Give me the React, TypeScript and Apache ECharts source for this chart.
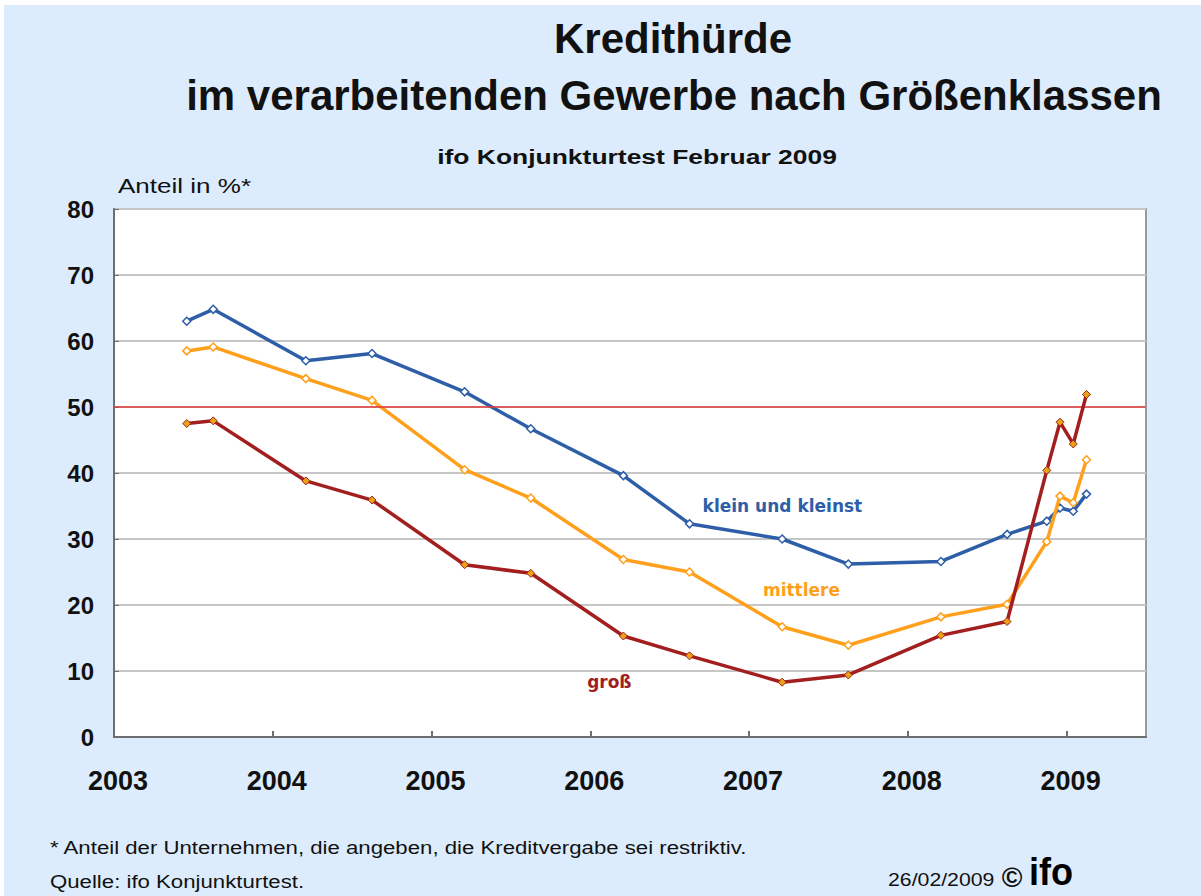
import React, { useEffect, useRef } from "react";
import * as echarts from "echarts";

// Survey months (ifo Konjunkturtest)
const surveyDates = [
  "2003-06", "2003-08", "2004-03", "2004-08", "2005-03", "2005-08",
  "2006-03", "2006-08", "2007-03", "2007-08", "2008-03", "2008-08",
  "2008-11", "2008-12", "2009-01", "2009-02",
];
const kleinUndKleinst = [63.0, 64.8, 57.0, 58.1, 52.3, 46.7, 39.6, 32.3, 30.0, 26.2, 26.6, 30.7, 32.7, 34.7, 34.2, 36.8];
const mittlere = [58.5, 59.1, 54.3, 51.0, 40.5, 36.2, 26.9, 25.0, 16.7, 13.9, 18.2, 20.1, 29.6, 36.5, 35.5, 42.0];
const gross = [47.5, 47.9, 38.8, 35.9, 26.1, 24.8, 15.3, 12.3, 8.3, 9.4, 15.4, 17.5, 40.4, 47.7, 44.4, 51.9];
const yearTicks = [2003, 2004, 2005, 2006, 2007, 2008, 2009];
const threshold = 50;

// label anchors in data coordinates [year, value]
const labelKlein: [number, number] = [2007.21, 35.0];
const labelMittlere: [number, number] = [2007.33, 22.3];
const labelGross: [number, number] = [2006.12, 8.4];

const BLUE = "#2E5EA8";
const ORANGE = "#FFA01C";
const RED = "#A31F1F";

function toYear(d: string): number {
  const [y, m] = d.split("-").map(Number);
  return y + (m - 0.5) / 12;
}

function pairs(values: number[]) {
  return surveyDates.map((d, i) => [toYear(d), values[i]]);
}

export default function App() {
  const ref = useRef<HTMLDivElement>(null);
  useEffect(() => {
    if (!ref.current) return;
    const chart = echarts.init(ref.current, undefined, { renderer: "svg" });
    const seriesLabel = (text: string, coord: [number, number], color: string) => ({
      symbol: "circle",
      symbolSize: 0,
      silent: true,
      data: [
        {
          coord,
          label: {
            show: true,
            position: "inside",
            formatter: text,
            color,
            fontFamily: "DejaVu Sans",
            fontWeight: "bold",
            fontSize: 17,
          },
        },
      ],
    });
    chart.setOption({
      animation: false,
      backgroundColor: "transparent",
      grid: {
        left: 114,
        right: 55,
        top: 209,
        bottom: 159,
        show: true,
        backgroundColor: "#ffffff",
        borderColor: "#9a9a9a",
        borderWidth: 2,
      },
      xAxis: {
        type: "value",
        min: yearTicks[0],
        max: 2009.5,
        interval: 1,
        axisLine: { show: true, lineStyle: { color: "#6e6e6e", width: 2 } },
        axisTick: { show: true, inside: true, length: 6, lineStyle: { color: "#6e6e6e", width: 2 } },
        splitLine: { show: false },
        axisLabel: {
          margin: 30,
          color: "#111",
          fontFamily: "Liberation Sans, Arial",
          fontWeight: "bold",
          fontSize: 27,
          showMaxLabel: false,
          padding: [0, 0, 0, 8],
          formatter: (v: number) => (yearTicks.includes(v) ? String(v) : ""),
        },
      },
      yAxis: {
        type: "value",
        min: 0,
        max: 80,
        interval: 10,
        axisLine: { show: true, lineStyle: { color: "#6e6e6e", width: 2 } },
        axisTick: { show: true, inside: true, length: 5, lineStyle: { color: "#6e6e6e", width: 1 } },
        splitLine: { show: true, lineStyle: { color: "#c6c6c6", width: 2 } },
        axisLabel: {
          margin: 20,
          color: "#111",
          fontFamily: "Liberation Sans, Arial",
          fontWeight: "bold",
          fontSize: 24,
        },
      },
      series: [
        {
          name: "Schwelle",
          type: "line",
          data: [],
          z: 1,
          markLine: {
            silent: true,
            symbol: ["none", "none"],
            label: { show: false },
            lineStyle: { color: "#E23A3A", width: 1.5, type: "solid" },
            data: [{ yAxis: threshold }],
          },
        },
        {
          name: "klein und kleinst",
          type: "line",
          z: 3,
          data: pairs(kleinUndKleinst),
          lineStyle: { color: BLUE, width: 3.5 },
          symbol: "diamond",
          symbolSize: 8,
          itemStyle: { color: "#ffffff", borderColor: BLUE, borderWidth: 1.5 },
          markPoint: seriesLabel("klein und kleinst", labelKlein, BLUE),
        },
        {
          name: "mittlere",
          type: "line",
          z: 4,
          data: pairs(mittlere),
          lineStyle: { color: ORANGE, width: 3.5 },
          symbol: "diamond",
          symbolSize: 8,
          itemStyle: { color: "#ffffff", borderColor: ORANGE, borderWidth: 1.5 },
          markPoint: seriesLabel("mittlere", labelMittlere, ORANGE),
        },
        {
          name: "groß",
          type: "line",
          z: 5,
          data: pairs(gross),
          lineStyle: { color: RED, width: 3.5 },
          symbol: "diamond",
          symbolSize: 8,
          itemStyle: { color: "#E9A416", borderColor: RED, borderWidth: 1 },
          markPoint: seriesLabel("groß", labelGross, RED),
        },
      ],
      graphic: [
        {
          type: "text",
          x: 673,
          y: 38,
          style: {
            text: "Kredithürde",
            textAlign: "center",
            textVerticalAlign: "middle",
            font: "bold 42px 'Liberation Sans', Arial",
            fill: "#111",
          },
        },
        {
          type: "text",
          x: 674,
          y: 95,
          style: {
            text: "im verarbeitenden Gewerbe nach Größenklassen",
            textAlign: "center",
            textVerticalAlign: "middle",
            font: "bold 42px 'Liberation Sans', Arial",
            fill: "#111",
          },
        },
        {
          type: "text",
          x: 637,
          y: 157,
          scaleX: 1.26,
          style: {
            text: "ifo Konjunkturtest Februar 2009",
            textAlign: "center",
            textVerticalAlign: "middle",
            font: "bold 21px 'Liberation Sans', Arial",
            fill: "#111",
          },
        },
        {
          type: "text",
          x: 118,
          y: 186,
          scaleX: 1.24,
          style: {
            text: "Anteil in %*",
            textAlign: "left",
            textVerticalAlign: "middle",
            font: "21px 'Liberation Sans', Arial",
            fill: "#111",
          },
        },
        {
          type: "text",
          x: 50,
          y: 848,
          scaleX: 1.2,
          style: {
            text: "* Anteil der Unternehmen, die angeben, die Kreditvergabe sei restriktiv.",
            textAlign: "left",
            textVerticalAlign: "middle",
            font: "18.5px 'Liberation Sans', Arial",
            fill: "#111",
          },
        },
        {
          type: "text",
          x: 50,
          y: 882,
          scaleX: 1.2,
          style: {
            text: "Quelle: ifo Konjunkturtest.",
            textAlign: "left",
            textVerticalAlign: "middle",
            font: "18.5px 'Liberation Sans', Arial",
            fill: "#111",
          },
        },
        {
          type: "text",
          x: 888,
          y: 880,
          scaleX: 1.15,
          style: {
            text: "26/02/2009",
            textAlign: "left",
            textVerticalAlign: "middle",
            font: "18.5px 'Liberation Sans', Arial",
            fill: "#111",
          },
        },
        {
          type: "text",
          x: 1012,
          y: 877,
          style: {
            text: "©",
            textAlign: "center",
            textVerticalAlign: "middle",
            font: "bold 28px 'Liberation Sans', Arial",
            fill: "#111",
          },
        },
        {
          type: "text",
          x: 1029,
          y: 872,
          scaleX: 0.95,
          style: {
            text: "ifo",
            textAlign: "left",
            textVerticalAlign: "middle",
            font: "bold 38px 'Liberation Sans', Arial",
            fill: "#000",
          },
        },
      ],
    });
    return () => chart.dispose();
  }, []);
  return (
    <div
      ref={ref}
      style={{
        position: "fixed",
        left: 0,
        top: 0,
        width: 1201,
        height: 896,
        background:
          "linear-gradient(#DCECFC, #DCECFC) 4px 5px / 100% 100% no-repeat, #ffffff",
      }}
    />
  );
}
